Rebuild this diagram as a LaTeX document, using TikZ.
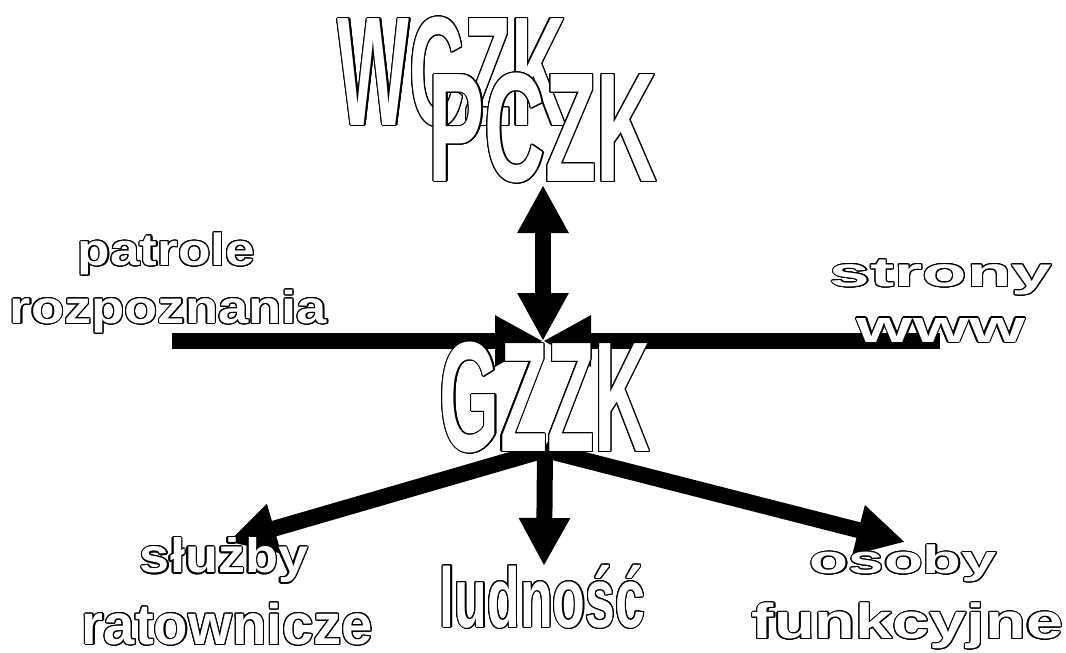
\documentclass[tikz,border=0pt]{standalone}
\usepackage{fontspec}
\setmainfont{Liberation Sans}
\usetikzlibrary{arrows.meta}
\tikzset{
  lbl/.style={inner sep=0pt, outer sep=0pt, font=\bfseries},
  thick arrow/.style={line width=16pt, -{Triangle[length=48pt,width=48pt]}},
  thick double/.style={line width=16pt, {Triangle[length=48pt,width=48pt]}-{Triangle[length=48pt,width=48pt]}},
}
\newcommand\olab[6]{%
  \foreach \ang in {0,20,...,340}{%
    \node[lbl,text=black] at ([shift={(\ang:1.15)}]#2,#3) {\resizebox*{#4pt}{#5pt}{#6}};}
  \node[lbl,text=white] (#1) at (#2,#3) {\resizebox*{#4pt}{#5pt}{#6}};
}
\begin{document}
\begin{tikzpicture}[x=1pt,y=-1pt]
\useasboundingbox[fill=white] (0,0) rectangle (1066,653);
% connector end points
\coordinate (c) at (543,341);
\coordinate (hl) at (172,341);
\coordinate (hr) at (940,341);
\coordinate (vt) at (543,185);
\coordinate (o) at (545,450);
\coordinate (tsl) at (228,542);
\coordinate (tlu) at (544,566);
\coordinate (tos) at (905,542);
% arrows
\draw[thick arrow] (hl) -- (c);
\draw[thick arrow] (hr) -- (c);
\draw[thick double] (vt) -- (c);
\draw[thick arrow] (o) -- (tsl);
\draw[thick arrow] (o) -- (tlu);
\draw[thick arrow] (o) -- (tos);
% labels
\olab{wczk}{452}{72}{228}{110}{WCZK}
\olab{pczk}{543}{128}{228}{110}{PCZK}
\olab{gzzk}{545}{397.5}{210}{111}{GZZK}
\olab{lud}{542.5}{596.5}{205}{63}{ludność}
\olab{pat}{166.5}{254}{177}{42}{patrole}
\olab{roz}{168.5}{311.5}{317}{43}{rozpoznania}
\olab{str}{941}{277.5}{222}{35}{strony}
\olab{www}{941}{330}{168}{24}{www}
\olab{slu}{224}{560.5}{168}{45}{służby}
\olab{rat}{227.5}{624}{291}{42}{ratownicze}
\olab{oso}{903.5}{563.5}{187}{37}{osoby}
\olab{fun}{907.5}{626}{311}{46}{funkcyjne}
\end{tikzpicture}
\end{document}
